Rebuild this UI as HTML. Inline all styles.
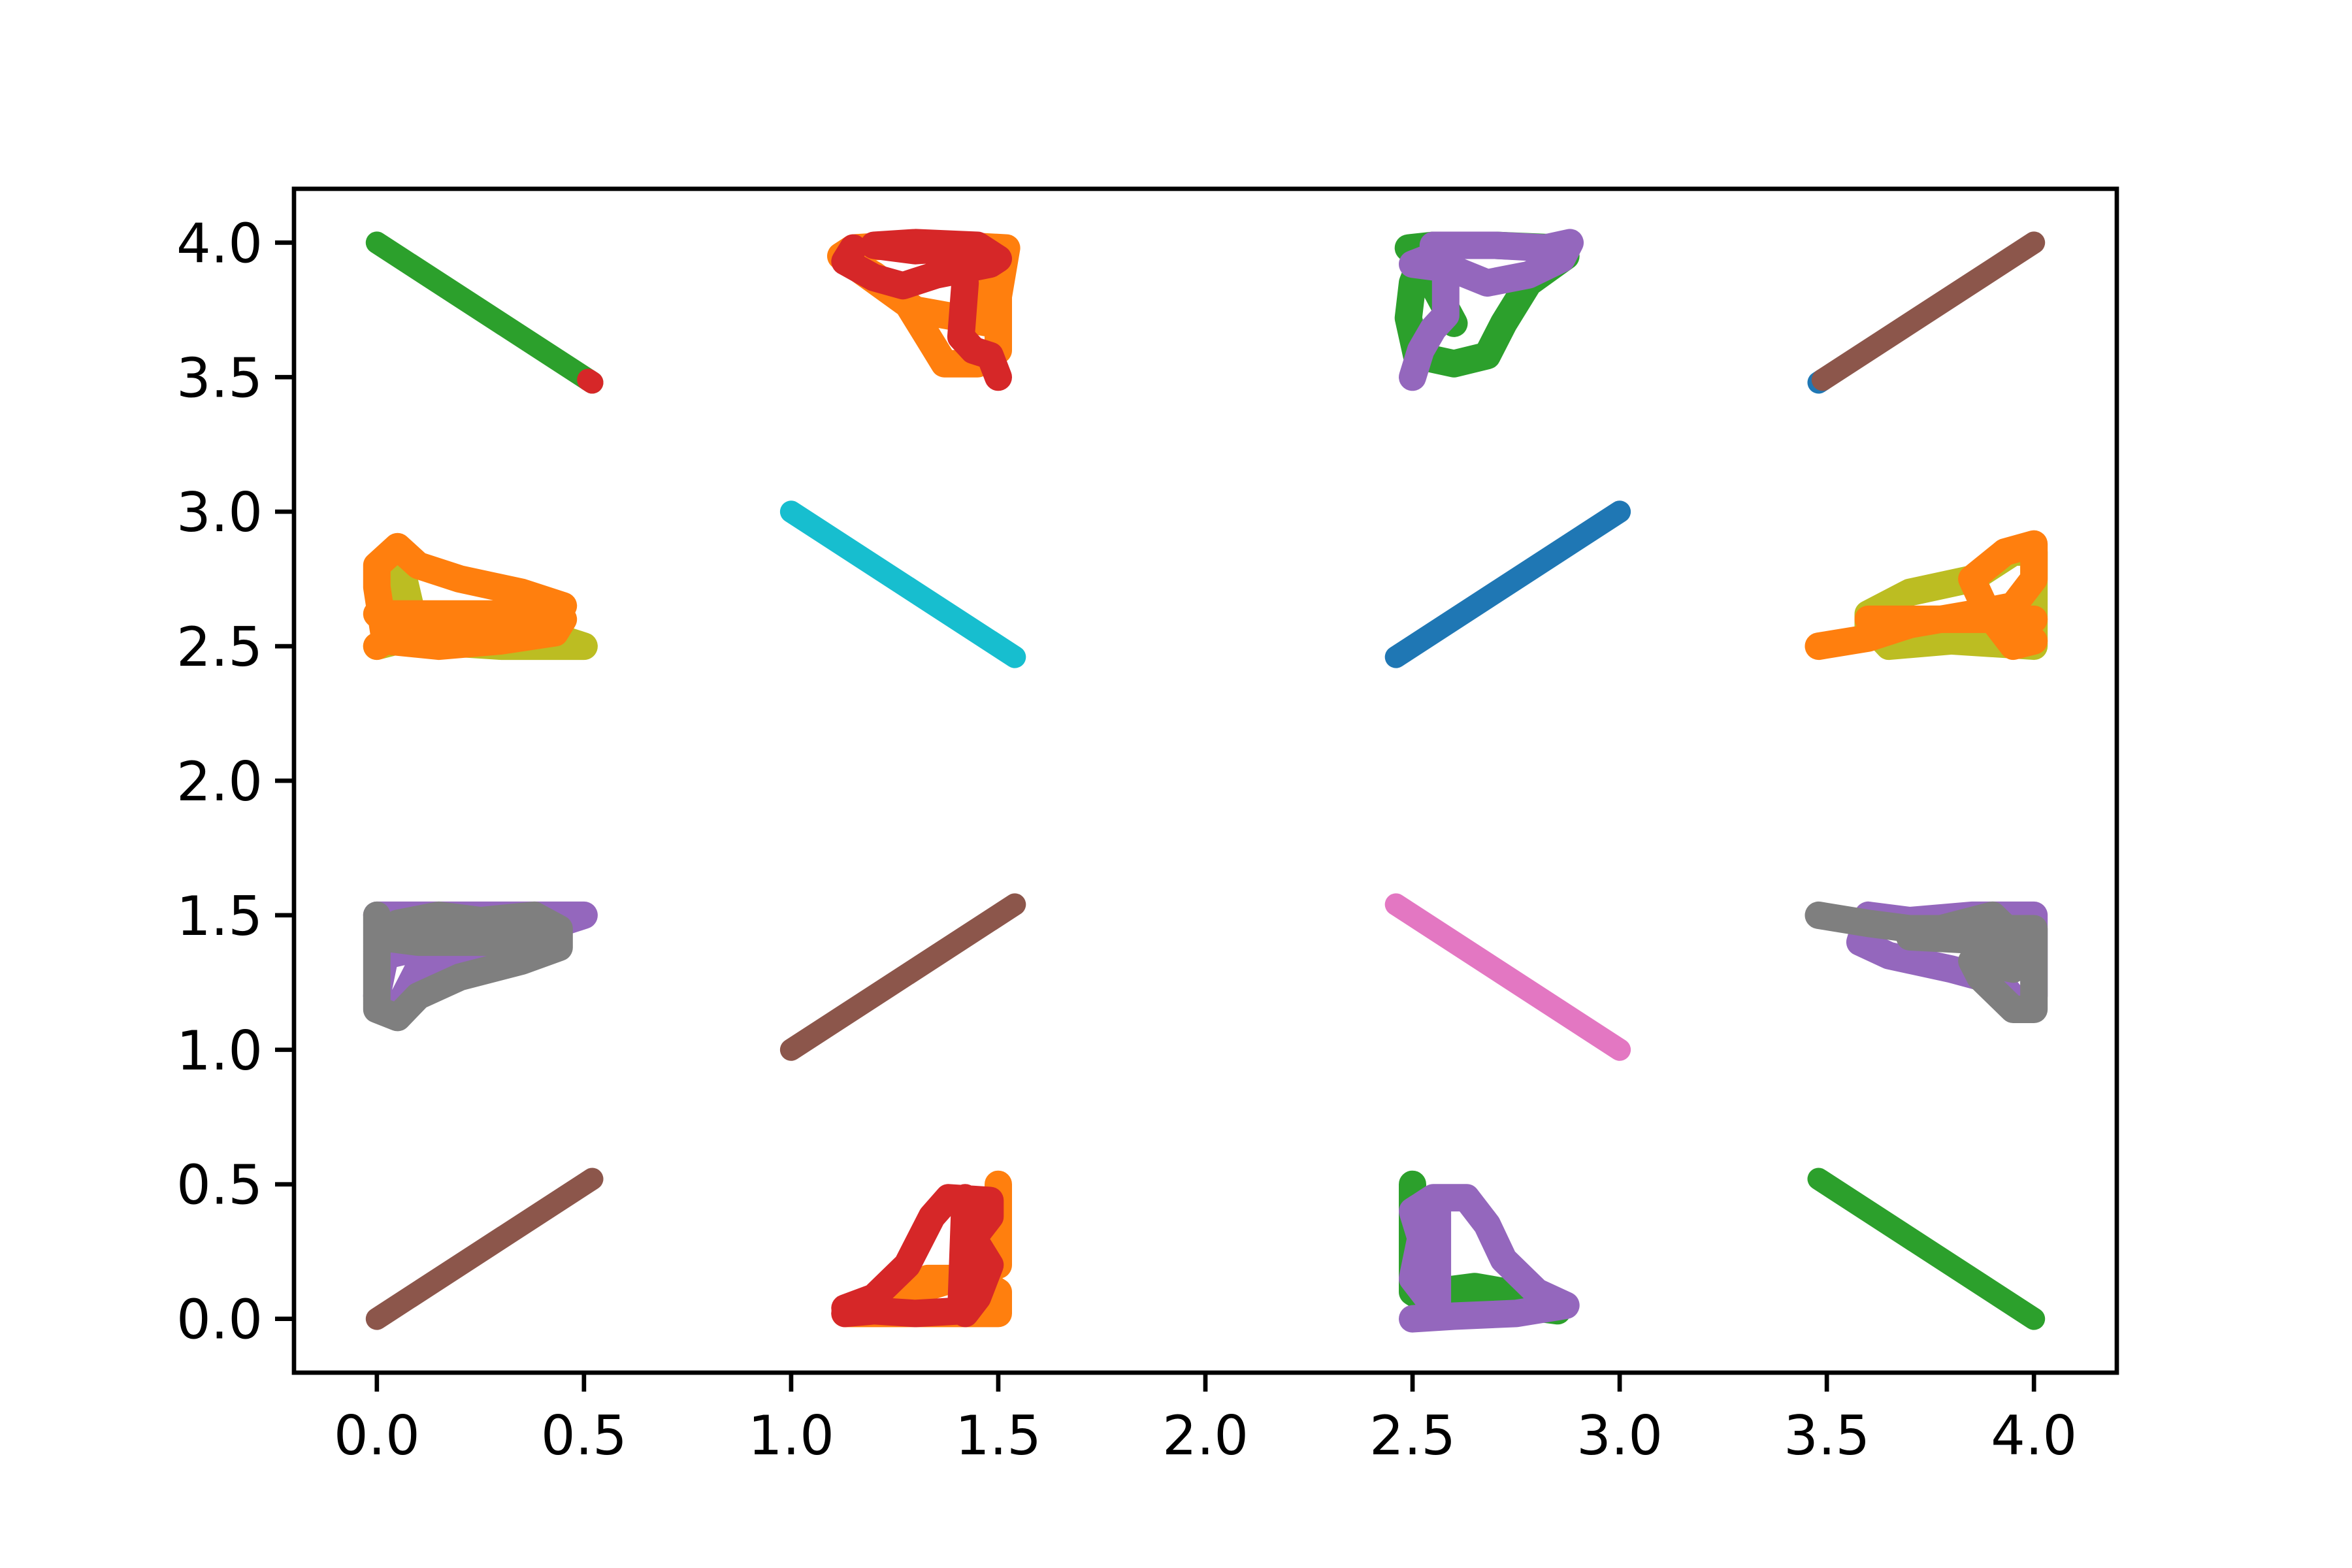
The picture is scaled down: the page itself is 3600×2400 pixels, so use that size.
<!DOCTYPE html>
<html><head><meta charset="utf-8"><style>
html,body{margin:0;padding:0;background:#fff}
svg{display:block}
text{font-family:"DejaVu Sans","Liberation Sans",sans-serif;font-size:83px;fill:#000}
</style></head><body>
<svg id="chart" width="3600" height="2400" viewBox="0 0 3600 2400" xmlns="http://www.w3.org/2000/svg">
<rect x="0" y="0" width="3600" height="2400" fill="#fff"/>
<g id="plot"></g>
<g id="axes"></g>
</svg>
<script>
const xTicks=[0,0.5,1,1.5,2,2.5,3,3.5,4];
const yTicks=[0,0.5,1,1.5,2,2.5,3,3.5,4];
const xTickLabels=["0.0","0.5","1.0","1.5","2.0","2.5","3.0","3.5","4.0"];
const yTickLabels=["0.0","0.5","1.0","1.5","2.0","2.5","3.0","3.5","4.0"];
const seriesNames=["green-tl","red-tl-dot","cyan","blue","blue-tr-dot","brown-tr","brown-bl","brown-mid","pink","green-br",
"orange-tm","red-tm","orange-bm","red-bm","green-t25","purple-t25","green-b25","purple-b25",
"olive-l","orange-l","olive-r","orange-r","purple-l","grey-l","purple-r","grey-r"];
const seriesColors=["#2ca02c","#d62728","#17becf","#1f77b4","#1f77b4","#8c564b","#8c564b","#8c564b","#e377c2","#2ca02c",
"#ff7f0e","#d62728","#ff7f0e","#d62728","#2ca02c","#9467bd","#2ca02c","#9467bd",
"#bcbd22","#ff7f0e","#bcbd22","#ff7f0e","#9467bd","#7f7f7f","#9467bd","#7f7f7f"];
const seriesX=[
[0,0.52],[0.51,0.52],[1,1.54],[2.46,3],[3.48,3.49],[3.49,4],[0,0.52],[1,1.54],[2.46,3],[3.48,4],
[1.12,1.2,1.27,1.33,1.37,1.45,1.5,1.5,1.52,1.4,1.25,1.15,1.12,1.3,1.48,1.47],
[1.15,1.13,1.2,1.27,1.35,1.48,1.5,1.45,1.3,1.2,1.3,1.4,1.42,1.41,1.44,1.48,1.5],
[1.13,1.2,1.35,1.5,1.5,1.45,1.33,1.25,1.5,1.5],
[1.13,1.2,1.28,1.34,1.38,1.48,1.48,1.44,1.48,1.45,1.42,1.42,1.41,1.3,1.2,1.13,1.15],
[2.49,2.55,2.7,2.85,2.87,2.78,2.72,2.68,2.6,2.51,2.49,2.5,2.52,2.6],
[2.5,2.52,2.55,2.58,2.58,2.55,2.7,2.82,2.88,2.86,2.78,2.68,2.6,2.5,2.55],
[2.5,2.5,2.55,2.65,2.75,2.85,2.8,2.65,2.55],
[2.5,2.6,2.75,2.87,2.8,2.72,2.68,2.63,2.55,2.5,2.52,2.5,2.55,2.56,2.56],
[0,0.05,0.1,0.15,0.25,0.4,0.5,0.3,0.1,0.05,0.02,0.04],
[0,0.05,0,0.4,0.45,0.43,0.3,0.15,0.02,0,0,0.05,0.1,0.2,0.35,0.45,0.4,0.05,0.3,0.42],
[3.6,3.6,3.7,3.85,3.95,4,4,3.8,3.65,3.62,3.75,3.9],
[3.48,3.6,3.7,3.85,3.95,4,4,3.93,3.85,3.88,3.95,4,3.95,3.9,3.6,4],
[0,0.1,0.5,0.3,0.1,0.05,0,0.02,0.3],
[0,0,0,0.05,0.1,0.2,0.35,0.44,0.44,0.38,0.25,0.15,0.05,0,0.1,0.4,0.3,0.1],
[3.6,3.58,3.65,3.8,3.92,3.97,4,4,3.85,3.7,3.6,3.8],
[3.48,3.6,3.7,3.85,4,4,3.95,3.87,3.85,3.95,4,3.9,3.7,3.95]
];
const seriesY=[
[4,3.48],[3.49,3.48],[3,2.46],[2.46,3],[3.48,3.49],[3.49,4],[0,0.52],[1,1.54],[1.54,1],[0.52,0],
[3.95,3.88,3.8,3.65,3.55,3.55,3.6,3.8,3.98,3.99,3.99,3.98,3.95,3.75,3.7,3.9],
[3.98,3.93,3.87,3.84,3.88,3.92,3.94,3.99,4,3.99,3.97,3.98,3.85,3.65,3.6,3.58,3.5],
[0.02,0.02,0.02,0.02,0.1,0.15,0.15,0.08,0.2,0.5],
[0.04,0.08,0.2,0.38,0.45,0.44,0.38,0.3,0.2,0.08,0.02,0.45,0.03,0.02,0.03,0.02,0.05],
[3.98,3.99,3.99,3.98,3.95,3.85,3.7,3.58,3.55,3.58,3.72,3.85,3.93,3.7],
[3.5,3.6,3.68,3.73,3.9,3.99,3.99,3.98,4,3.94,3.88,3.85,3.9,3.92,3.95],
[0.5,0.1,0.05,0.1,0.05,0.03,0.08,0.12,0.1],
[0,0.01,0.02,0.05,0.1,0.22,0.35,0.45,0.45,0.4,0.3,0.15,0.05,0.4,0.02],
[2.5,2.52,2.55,2.6,2.6,2.55,2.5,2.5,2.52,2.85,2.7,2.55],
[2.5,2.55,2.62,2.62,2.6,2.55,2.52,2.5,2.52,2.72,2.8,2.87,2.8,2.75,2.7,2.65,2.55,2.62,2.57,2.58],
[2.55,2.62,2.7,2.75,2.85,2.85,2.5,2.52,2.5,2.55,2.6,2.6],
[2.5,2.53,2.58,2.62,2.65,2.75,2.88,2.85,2.75,2.65,2.6,2.52,2.5,2.6,2.6,2.6],
[1.5,1.5,1.5,1.4,1.3,1.15,1.2,1.35,1.45],
[1.5,1.3,1.15,1.12,1.2,1.27,1.33,1.38,1.45,1.5,1.48,1.5,1.47,1.42,1.4,1.4,1.45,1.45],
[1.5,1.4,1.35,1.3,1.25,1.15,1.2,1.5,1.5,1.48,1.5,1.45],
[1.5,1.47,1.45,1.45,1.45,1.15,1.15,1.27,1.33,1.3,1.35,1.5,1.42,1.4]
];
const L=450,R=3240,T=289,B=2101;
const xmin=-0.2,xmax=4.2,ymin=-0.2,ymax=4.2;
function sx(v){return L+(v-xmin)/(xmax-xmin)*(R-L);}
function sy(v){return B-(v-ymin)/(ymax-ymin)*(B-T);}
const NS="http://www.w3.org/2000/svg";
const plot=document.getElementById('plot');
const axes=document.getElementById('axes');
for(let i=0;i<seriesX.length;i++){
  const p=document.createElementNS(NS,'polyline');
  p.setAttribute('points',seriesX[i].map((x,j)=>sx(x).toFixed(1)+','+sy(seriesY[i][j]).toFixed(1)).join(' '));
  p.setAttribute('fill','none');
  p.setAttribute('stroke',seriesColors[i]);
  p.setAttribute('stroke-width', i<10 ? '34' : '42');
  p.setAttribute('stroke-linecap','round');
  p.setAttribute('stroke-linejoin','round');
  
  
  plot.appendChild(p);
}
const frame=document.createElementNS(NS,'rect');
frame.setAttribute('x',L);frame.setAttribute('y',T);
frame.setAttribute('width',R-L);frame.setAttribute('height',B-T);
frame.setAttribute('fill','none');frame.setAttribute('stroke','#000');frame.setAttribute('stroke-width','6.7');


axes.appendChild(frame);
xTicks.forEach((v,i)=>{
  const x=sx(v);
  const t=document.createElementNS(NS,'line');
  t.setAttribute('x1',x);t.setAttribute('x2',x);t.setAttribute('y1',B);t.setAttribute('y2',B+29);
  t.setAttribute('stroke','#000');t.setAttribute('stroke-width','6.7');
  
  
  axes.appendChild(t);
  const l=document.createElementNS(NS,'text');
  l.setAttribute('x',x);l.setAttribute('y',B+125);l.setAttribute('text-anchor','middle');
  l.textContent=xTickLabels[i];
  
  
  axes.appendChild(l);
});
yTicks.forEach((v,i)=>{
  const y=sy(v);
  const t=document.createElementNS(NS,'line');
  t.setAttribute('x1',L-29);t.setAttribute('x2',L);t.setAttribute('y1',y);t.setAttribute('y2',y);
  t.setAttribute('stroke','#000');t.setAttribute('stroke-width','6.7');
  
  
  axes.appendChild(t);
  const l=document.createElementNS(NS,'text');
  l.setAttribute('x',L-48);l.setAttribute('y',y+30);l.setAttribute('text-anchor','end');
  l.textContent=yTickLabels[i];
  
  
  axes.appendChild(l);
});
</script>
</body></html>
